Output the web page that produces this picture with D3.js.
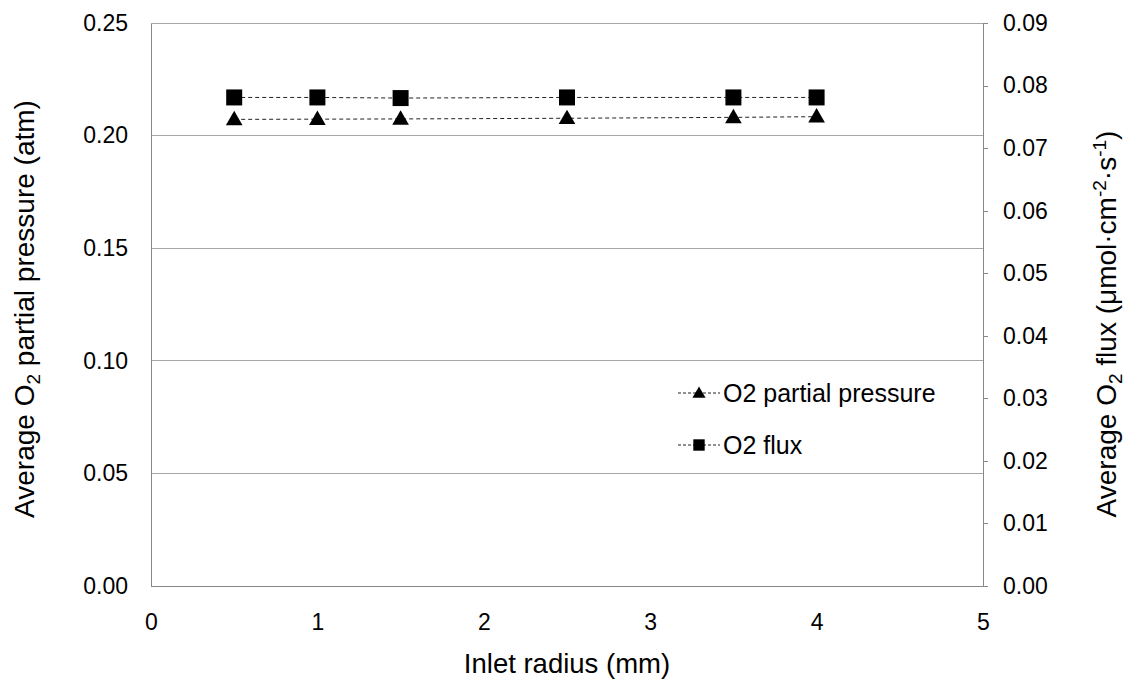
<!DOCTYPE html>
<html><head><meta charset="utf-8">
<script src="https://cdn.jsdelivr.net/npm/d3@7"></script>
<style>body{margin:0;background:#fff;} text{font-family:"Liberation Sans",Arial,sans-serif;fill:#000;}</style>
</head><body><svg id="c" width="1126" height="682"></svg>
<script>
const radius = [0.5, 1, 1.5, 2.5, 3.5, 4];
const pressure = [0.2072, 0.2073, 0.2074, 0.2077, 0.2081, 0.2084];
const flux = [0.0781, 0.0781, 0.0780, 0.0781, 0.0781, 0.0781];
const xTicks = [0, 1, 2, 3, 4, 5];
const yLeftTicks = [0, 0.05, 0.10, 0.15, 0.20, 0.25];
const yRightTicks = [0, 0.01, 0.02, 0.03, 0.04, 0.05, 0.06, 0.07, 0.08, 0.09];
const seriesNames = ["O2 partial pressure", "O2 flux"];

const svg = d3.select("#c");
const L = 151, R = 983, T = 23, B = 586;
const x = d3.scaleLinear().domain([0, 5]).range([L, R]);
const yL = d3.scaleLinear().domain([0, 0.25]).range([B, T]);
const yR = d3.scaleLinear().domain([0, 0.09]).range([B, T]);
const fs = 23, fsLeg = 25, fsTitle = 28, fsSub = 19;

// gridlines
svg.append("g").selectAll("line").data(yLeftTicks.filter(d => d > 0)).join("line")
  .attr("x1", L).attr("x2", R).attr("y1", d => yL(d)).attr("y2", d => yL(d))
  .attr("stroke", "#a6a6a6").attr("stroke-width", 1).attr("shape-rendering", "crispEdges");

// left axis
const gl = svg.append("g").attr("transform", `translate(${L},0)`)
  .call(d3.axisLeft(yL).tickValues(yLeftTicks).tickFormat(d3.format(".2f")).tickSize(0).tickPadding(23));
gl.select(".domain").attr("stroke", "#888").attr("shape-rendering", "crispEdges");
gl.selectAll("text").attr("font-size", fs).attr("font-family", "Liberation Sans, Arial, sans-serif");

// bottom axis
const gb = svg.append("g").attr("transform", `translate(0,${B})`)
  .call(d3.axisBottom(x).tickValues(xTicks).tickFormat(d3.format("d")).tickSize(0).tickPadding(28));
gb.select(".domain").attr("stroke", "#888").attr("shape-rendering", "crispEdges");
gb.selectAll("text").attr("font-size", fs).attr("font-family", "Liberation Sans, Arial, sans-serif");

// right axis
const gr = svg.append("g").attr("transform", `translate(${R},0)`)
  .call(d3.axisRight(yR).tickValues(yRightTicks).tickFormat(d3.format(".2f")).tickSize(5).tickSizeOuter(0).tickPadding(15));
gr.select(".domain").attr("stroke", "#888").attr("shape-rendering", "crispEdges");
gr.selectAll("line").attr("stroke", "#888").attr("shape-rendering", "crispEdges");
gr.selectAll("text").attr("font-size", fs).attr("font-family", "Liberation Sans, Arial, sans-serif");

// lines
const lineP = d3.line().x((d, i) => x(radius[i])).y(d => yL(d));
const lineF = d3.line().x((d, i) => x(radius[i])).y(d => yR(d));
svg.append("path").attr("d", lineP(pressure)).attr("fill", "none").attr("stroke", "#222").attr("stroke-width", 1).attr("stroke-dasharray", "4,3");
svg.append("path").attr("d", lineF(flux)).attr("fill", "none").attr("stroke", "#222").attr("stroke-width", 1).attr("stroke-dasharray", "4,3");

const tri = d3.symbol().type(d3.symbolTriangle).size(120);
const sq = d3.symbol().type(d3.symbolSquare).size(256);
svg.append("g").selectAll("path").data(pressure).join("path")
  .attr("d", tri).attr("transform", (d, i) => `translate(${x(radius[i])},${yL(d) + 1})`).attr("fill", "#000");
svg.append("g").selectAll("path").data(flux).join("path")
  .attr("d", sq).attr("transform", (d, i) => `translate(${x(radius[i])},${yR(d)})`).attr("fill", "#000");

// legend
const legY = [393, 445];
const lg = svg.append("g");
legY.forEach((ly, i) => {
  lg.append("line").attr("x1", 678).attr("x2", 720).attr("y1", ly).attr("y2", ly)
    .attr("stroke", "#222").attr("stroke-dasharray", "3,2");
  lg.append("path").attr("d", i === 0 ? d3.symbol().type(d3.symbolTriangle).size(75)() : d3.symbol().type(d3.symbolSquare).size(130)())
    .attr("transform", `translate(699,${ly + (i === 0 ? 1 : 0)})`).attr("fill", "#000");
  lg.append("text").attr("x", 723).attr("y", ly).attr("dy", "0.35em").attr("font-size", fsLeg).text(seriesNames[i]);
});

// axis titles
svg.append("text").attr("x", 567).attr("y", 673).attr("text-anchor", "middle").attr("font-size", 27.5).text("Inlet radius (mm)");

const tl = svg.append("text").attr("transform", `translate(34,309) rotate(-90)`).attr("text-anchor", "middle").attr("font-size", fsTitle);
tl.append("tspan").text("Average O");
tl.append("tspan").attr("font-size", fsSub).attr("dy", 6).text("2");
tl.append("tspan").attr("dy", -6).text(" partial pressure (atm)");

const tr = svg.append("text").attr("transform", `translate(1116,324) rotate(-90)`).attr("text-anchor", "middle").attr("font-size", fsTitle);
tr.append("tspan").text("Average O");
tr.append("tspan").attr("font-size", fsSub).attr("dy", 6).text("2");
tr.append("tspan").attr("dy", -6).text(" flux (μmol·cm");
tr.append("tspan").attr("font-size", fsSub).attr("dy", -10).text("-2");
tr.append("tspan").attr("dy", 10).text("·s");
tr.append("tspan").attr("font-size", fsSub).attr("dy", -10).text("-1");
tr.append("tspan").attr("dy", 10).text(")");
</script></body></html>
